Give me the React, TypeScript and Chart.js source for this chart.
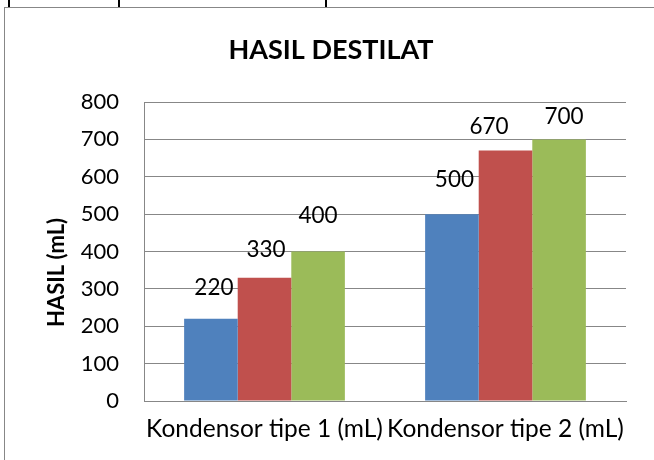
import React, { useEffect, useRef } from "react";
import { Chart, registerables } from "chart.js";

Chart.register(...registerables);

const TITLE = "HASIL DESTILAT";
const Y_TITLE = "HASIL (mL)";
const CATEGORIES = ["Kondensor tipe 1 (mL)", "Kondensor tipe 2 (mL)"];
const SERIES_NAMES = ["Seri 1", "Seri 2", "Seri 3"];
const SERIES_1 = [220, 500];
const SERIES_2 = [330, 670];
const SERIES_3 = [400, 700];
const Y_MIN = 0;
const Y_MAX = 800;
const Y_STEP = 100;

const COLORS = ["#4F81BD", "#C0504D", "#9BBB59"];
const GRID = "#878787";
const FONT = "Lato";

// small manual nudges of the value labels (relative to the default spot above each bar)
const LABEL_DX = [
  [3, 2.5],
  [1.5, -16.5],
  [0, 5],
];
const LABEL_DY = [
  [-2, -4.7],
  [1, 5],
  [-6.5, 6.6],
];

const decorPlugin = {
  id: "decor",
  afterDraw(chart: any) {
    const ctx = chart.ctx as CanvasRenderingContext2D;
    ctx.save();
    ctx.fillStyle = "#000";
    ctx.textAlign = "center";
    ctx.textBaseline = "alphabetic";
    ctx.font = `bold 27px ${FONT}`;
    ctx.fillText(TITLE, 331, 59);

    ctx.save();
    ctx.translate(64, 272.5);
    ctx.rotate(-Math.PI / 2);
    ctx.font = `bold 22px ${FONT}`;
    ctx.fillText(Y_TITLE, 0, 0);
    ctx.restore();

    ctx.font = `22.5px ${FONT}`;
    chart.data.datasets.forEach((ds: any, i: number) => {
      const meta = chart.getDatasetMeta(i);
      meta.data.forEach((bar: any, j: number) => {
        const v = ds.data[j];
        ctx.fillText(String(v), bar.x + LABEL_DX[i][j], bar.y - 22 + LABEL_DY[i][j]);
      });
    });
    ctx.restore();
  },
};

export default function App() {
  const ref = useRef<HTMLCanvasElement | null>(null);

  useEffect(() => {
    const canvas = ref.current;
    if (!canvas) return;
    const chart = new Chart(canvas, {
      type: "bar",
      data: {
        labels: CATEGORIES,
        datasets: [SERIES_1, SERIES_2, SERIES_3].map((d, i) => ({
          label: SERIES_NAMES[i],
          data: d,
          backgroundColor: COLORS[i],
          borderWidth: 0,
          barPercentage: 1,
          categoryPercentage: 0.667,
        })),
      },
      options: {
        animation: false,
        responsive: false,
        devicePixelRatio: 1,
        layout: { padding: { left: 0, top: 102, right: 28, bottom: 0 } },
        plugins: {
          legend: { display: false },
          title: { display: false },
          tooltip: { enabled: false },
        },
        scales: {
          x: {
            grid: { display: false, drawTicks: false },
            border: { display: true, color: GRID, width: 1 },
            ticks: {
              color: "#000",
              font: { family: FONT, size: 24.5 },
              padding: 13,
              maxRotation: 0,
              minRotation: 0,
              autoSkip: false,
            },
            afterFit(scale: any) {
              scale.height = 59;
            },
          },
          y: {
            min: Y_MIN,
            max: Y_MAX,
            grid: { color: GRID, lineWidth: 1, drawTicks: false },
            border: { display: true, color: GRID, width: 1 },
            ticks: {
              stepSize: Y_STEP,
              color: "#000",
              font: { family: FONT, size: 22 },
              padding: 25,
            },
            afterFit(scale: any) {
              scale.width = 144;
            },
          },
        },
      },
      plugins: [decorPlugin],
    });
    return () => chart.destroy();
  }, []);

  return (
    <div
      style={{
        position: "fixed",
        left: 0,
        top: 0,
        width: 654,
        height: 460,
        background: "#fff",
        overflow: "hidden",
      }}
    >
      <div
        style={{
          position: "absolute",
          left: 4,
          top: 7,
          width: 700,
          height: 500,
          borderLeft: "1.5px solid #878787",
          borderTop: "1.5px solid #878787",
        }}
      />
      {[7.5, 117.5, 324.7].map((x) => (
        <div
          key={x}
          style={{ position: "absolute", left: x, top: 0, width: 2, height: 7, background: "#000" }}
        />
      ))}
      <canvas
        ref={ref}
        width={654}
        height={460}
        style={{ position: "absolute", left: 0, top: 0, width: 654, height: 460 }}
      />
    </div>
  );
}
